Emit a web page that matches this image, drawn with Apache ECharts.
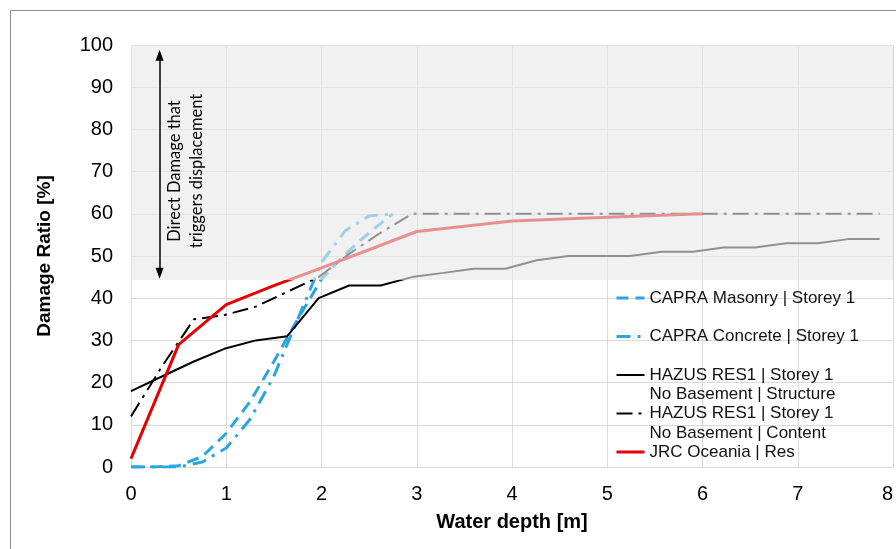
<!DOCTYPE html>
<html>
<head>
<meta charset="utf-8">
<script src="https://cdn.jsdelivr.net/npm/echarts@6/dist/echarts.min.js"></script>
<style>
  html, body { margin: 0; padding: 0; background: #fff; }
  #chart { width: 896px; height: 549px; }
</style>
</head>
<body>
<div id="chart"></div>
<script>
// depth [m] / damage ratio [%]
const masonryDepth = [0, 0.25, 0.5, 0.75, 1.0, 1.25, 1.5, 1.75, 2.0, 2.25, 2.5, 2.75];
const masonryDamage = [0, 0, 0.3, 2.5, 8, 15.5, 25, 35, 44.5, 50.5, 55.5, 60];

const concreteDepth = [0, 0.25, 0.5, 0.75, 1.0, 1.25, 1.5, 1.75, 2.0, 2.25, 2.5, 2.75];
const concreteDamage = [0, 0, 0, 1.2, 4.5, 11.3, 21.5, 35, 48.5, 56, 59.5, 60];

const hazusStructDepth = [0, 0.33, 0.66, 0.98, 1.31, 1.64, 1.97, 2.29, 2.62, 2.95, 3.28, 3.6, 3.93,
  4.26, 4.59, 4.91, 5.24, 5.57, 5.9, 6.22, 6.55, 6.88, 7.21, 7.53, 7.86];
const hazusStructDamage = [18, 21.5, 25, 28, 30, 31, 40, 43, 43, 45, 46, 47, 47,
  49, 50, 50, 50, 51, 51, 52, 52, 53, 53, 54, 54];

const hazusContentDepth = [0, 0.33, 0.66, 0.98, 1.31, 1.64, 1.97, 2.29, 2.62, 2.95, 7.86];
const hazusContentDamage = [12, 24, 35, 36, 38, 41.5, 45, 50.5, 55.5, 60, 60];

const jrcDepth = [0, 0.5, 1, 1.5, 2, 3, 4, 5, 6];
const jrcDamage = [2, 29, 38.5, 43, 47.2, 55.8, 58.3, 59.2, 60];

const seriesNames = [
  'CAPRA Masonry | Storey 1',
  'CAPRA Concrete | Storey 1',
  'HAZUS RES1 | Storey 1\nNo Basement | Structure',
  'HAZUS RES1 | Storey 1\nNo Basement | Content',
  'JRC Oceania | Res'
];

const BLUE = '#2aa5e0';
const RED = '#e60000';

function pairs(xs, ys) {
  return xs.map((x, i) => [x, ys[i]]);
}

const chart = echarts.init(document.getElementById('chart'));

const option = {
  animation: false,
  grid: { left: 131, right: 3, top: 45, bottom: 82 },
  graphic: [
    { // outer frame
      type: 'rect', z: -1,
      shape: { x: 10.5, y: 10.5, width: 1000, height: 1000 },
      style: { fill: 'none', stroke: '#8c8c8c', lineWidth: 1 }
    },
    { // annotation next to the arrow
      type: 'text', z: 100,
      x: 186, y: 171, rotation: Math.PI / 2,
      style: {
        text: 'Direct Damage that\ntriggers displacement',
        font: '16.5px Lato',
        align: 'center', verticalAlign: 'middle',
        lineHeight: 22, fill: '#000'
      }
    }
  ],
  xAxis: {
    type: 'value', min: 0, max: 8, interval: 1,
    axisLine: { show: true, lineStyle: { color: '#d9d9d9' } },
    axisTick: { show: false },
    splitLine: { show: true, lineStyle: { color: '#d9d9d9' } },
    axisLabel: { color: '#000', fontSize: 20, fontFamily: 'Liberation Sans', margin: 17, alignMaxLabel: 'right' },
    name: 'Water depth [m]', nameLocation: 'middle', nameGap: 45,
    nameTextStyle: { color: '#000', fontSize: 20, fontWeight: 'bold', fontFamily: 'Liberation Sans' }
  },
  yAxis: {
    type: 'value', min: 0, max: 100, interval: 10,
    axisLine: { show: false },
    axisTick: { show: false },
    splitLine: { show: true, lineStyle: { color: '#d9d9d9' } },
    axisLabel: { color: '#000', fontSize: 20, fontFamily: 'Liberation Sans', margin: 18 },
    name: 'Damage Ratio [%]', nameLocation: 'middle', nameGap: 77, nameRotate: 90,
    nameTextStyle: { color: '#000', fontSize: 19, fontWeight: 'bold', fontFamily: 'Liberation Sans' }
  },
  legend: {
    orient: 'vertical', left: 615, top: 268.75, padding: 0,
    itemGap: -20, itemWidth: 28, itemHeight: 14,
    itemStyle: { opacity: 0 },
    textStyle: { color: '#111', fontSize: 17, fontFamily: 'Liberation Sans', lineHeight: 19.5 },
    // blank first line puts the icon level with the first text line
    formatter: function (name) {
      return name.indexOf('\n') >= 0 ? '\n' + name : '\n' + name + '\n';
    },
    data: [
      { name: seriesNames[0], lineStyle: { width: 3 } },
      { name: seriesNames[1], lineStyle: { width: 3 } },
      { name: seriesNames[2] },
      { name: seriesNames[3] },
      { name: seriesNames[4], lineStyle: { width: 3 } }
    ]
  },
  series: [
    {
      name: seriesNames[0], type: 'line', symbol: 'none',
      data: pairs(masonryDepth, masonryDamage),
      itemStyle: { color: BLUE },
      lineStyle: { color: BLUE, width: 3, type: [12, 7] }
    },
    {
      name: seriesNames[1], type: 'line', symbol: 'none',
      data: pairs(concreteDepth, concreteDamage),
      itemStyle: { color: BLUE },
      lineStyle: { color: BLUE, width: 3, type: [14, 7, 3, 7] }
    },
    {
      name: seriesNames[2], type: 'line', symbol: 'none',
      data: pairs(hazusStructDepth, hazusStructDamage),
      itemStyle: { color: '#000' },
      lineStyle: { color: '#000', width: 2 }
    },
    {
      name: seriesNames[3], type: 'line', symbol: 'none',
      data: pairs(hazusContentDepth, hazusContentDamage),
      itemStyle: { color: '#000' },
      lineStyle: { color: '#000', width: 2, type: [16, 6, 3, 6] }
    },
    {
      name: seriesNames[4], type: 'line', symbol: 'none',
      data: pairs(jrcDepth, jrcDamage),
      itemStyle: { color: RED },
      lineStyle: { color: RED, width: 3 },
      // grey veil over the displacement zone, drawn above the curves
      markArea: {
        silent: true, z: 10,
        label: { show: false },
        itemStyle: { color: 'rgba(232,232,232,0.62)' },
        data: [[{ coord: [0, 44.3] }, { coord: [8, 100] }]]
      },
      markLine: {
        silent: true, z: 11,
        symbol: ['triangle', 'triangle'], symbolSize: [8, 11],
        label: { show: false },
        lineStyle: { color: '#000', width: 1.5, type: 'solid' },
        data: [[{ coord: [0.3, 45.9] }, { coord: [0.3, 97.6] }]]
      }
    }
  ]
};

chart.setOption(option);
window.onresize = function () {
  chart.resize();
};
</script>
</body>
</html>
